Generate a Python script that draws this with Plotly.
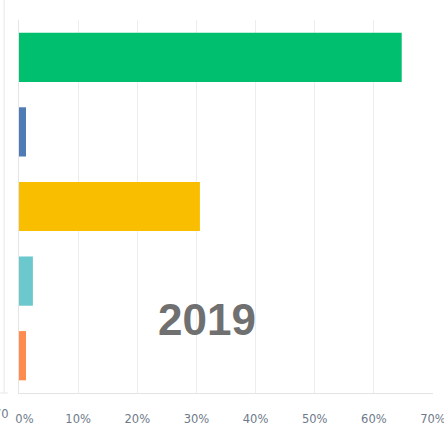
import plotly.graph_objects as go

# Answer choices (top to bottom) and share of responses, in percent
choices = ["Choice A", "Choice B", "Choice C", "Choice D", "Choice E"]
shares = [64.71, 1.18, 30.59, 2.35, 1.18]
colors = ["#00BF6F", "#507CB6", "#F9BE00", "#6BC8CD", "#FF8B4F"]

tick_values = [0, 10, 20, 30, 40, 50, 60, 70]
tick_labels = ["\u00a0\u00a0\u00a00%", "10%", "20%", "30%", "40%", "50%", "60%", "70%"]

year_label = "2019"

fig = go.Figure(
    go.Bar(
        x=shares,
        y=choices,
        orientation="h",
        marker=dict(color=colors, line=dict(width=0)),
        hoverinfo="x+y",
    )
)

fig.update_layout(
    width=444,
    height=427,
    margin=dict(l=19, r=11, t=20, b=34, autoexpand=False),
    paper_bgcolor="white",
    plot_bgcolor="white",
    bargap=0.34,
    showlegend=False,
    xaxis=dict(
        range=[0, 70],
        tickvals=tick_values,
        ticktext=tick_labels,
        showgrid=True,
        gridcolor="#EDEDED",
        gridwidth=1,
        zeroline=False,
        showline=True,
        linecolor="#E4E4E4",
        linewidth=1,
        ticks="",
        automargin=False,
        ticklabeloverflow="allow",
        ticklabelstandoff=15,
        tickfont=dict(family="DejaVu Sans", size=11.5, color="#6E7A89"),
        fixedrange=True,
    ),
    yaxis=dict(
        categoryorder="array",
        categoryarray=choices,
        autorange="reversed",
        showticklabels=False,
        showgrid=False,
        zeroline=False,
        showline=True,
        linecolor="#E4E4E4",
        linewidth=1,
        ticks="",
        automargin=False,
        fixedrange=True,
    ),
    annotations=[
        dict(
            text=f"<b>{year_label}</b>",
            xref="x",
            yref="paper",
            x=31.8,
            y=0.197,
            xanchor="center",
            yanchor="middle",
            showarrow=False,
            font=dict(family="Liberation Sans", size=44, color="#707070"),
        ),
        # edge of the neighbouring panel's axis label
        dict(
            text="70",
            xref="paper",
            yref="paper",
            x=-0.020,
            y=-0.057,
            xanchor="right",
            yanchor="middle",
            showarrow=False,
            font=dict(family="DejaVu Sans", size=11.5, color="#6E7A89"),
        ),
    ],
    shapes=[
        # neighbouring panel's axis frame
        dict(type="line", xref="paper", yref="paper",
             x0=-0.036, x1=-0.036, y0=0.0, y1=1.06,
             line=dict(color="#E8E8E8", width=1)),
        dict(type="line", xref="paper", yref="paper",
             x0=-0.05, x1=-0.026, y0=0.0, y1=0.0,
             line=dict(color="#E8E8E8", width=1)),
    ],
)

fig.write_html("out.html")
